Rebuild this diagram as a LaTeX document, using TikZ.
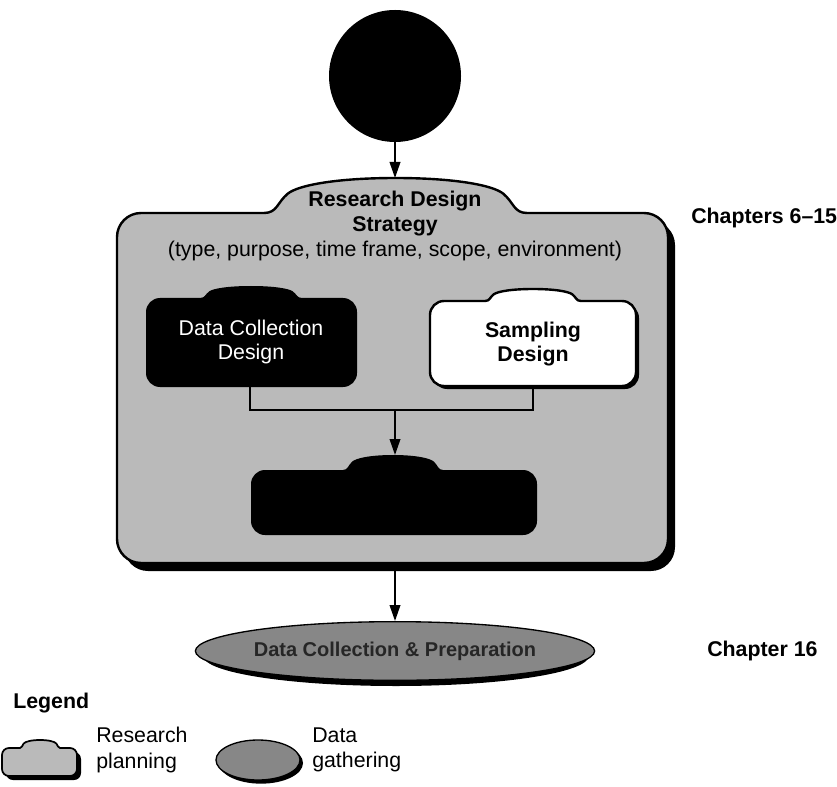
\documentclass[tikz,border=0pt]{standalone}
\usepackage{fontspec}
\setmainfont{Liberation Sans}
\usetikzlibrary{arrows.meta,shapes.geometric}
% #1 options, #2 x1, #3 y top of body, #4 x2, #5 y bottom, #6 bump left, #7 bump right, #8 bump top, #9 corner radius
\newcommand{\cloudshape}[9][]{%
 \path[#1] (#7,#3) -- ({#4-#9},#3) arc[start angle=-90,end angle=0,radius=#9]
  -- (#4,{#5-#9}) arc[start angle=0,end angle=90,radius=#9]
  -- ({#2+#9},#5) arc[start angle=90,end angle=180,radius=#9]
  -- (#2,{#3+#9}) arc[start angle=180,end angle=270,radius=#9]
  -- (#6,#3)
  .. controls ({#6+0.05*(#7-#6)},#3) and ({#6+0.05*(#7-#6)},{#3-0.3*(#3-#8)}) .. ({#6+0.09*(#7-#6)},{#3-0.55*(#3-#8)})
  .. controls ({#6+0.13*(#7-#6)},{#3-0.8*(#3-#8)}) and ({#6+0.28*(#7-#6)},#8) .. ({#6+0.5*(#7-#6)},#8)
  .. controls ({#6+0.72*(#7-#6)},#8) and ({#6+0.87*(#7-#6)},{#3-0.8*(#3-#8)}) .. ({#6+0.91*(#7-#6)},{#3-0.55*(#3-#8)})
  .. controls ({#6+0.95*(#7-#6)},{#3-0.3*(#3-#8)}) and ({#6+0.95*(#7-#6)},#3) .. (#7,#3)
  -- cycle;}
\begin{document}
\begin{tikzpicture}[x=0.75pt,y=-0.75pt,
  arr/.style={line width=1.3pt,-{Triangle[length=12pt,width=8pt]}},
  conn/.style={line width=1.3pt},
  lbl/.style={font=\fontsize{16}{18.4}\selectfont,align=center,inner sep=0pt},
  planfill/.style={fill=black!27,draw=black,line width=1.8pt},
  gatherfill/.style={ellipse,fill=black!47,draw=black,line width=1pt,inner sep=0pt}]
\useasboundingbox (0,0) rectangle (837,787);

% start circle
\node[circle,fill=black,minimum size=99pt,inner sep=0pt] (start) at (395,76) {};

% big research design box
\cloudshape[fill=black,shift={(7,8)}]{117}{213}{668}{563}{264}{527}{180}{24}
\cloudshape[planfill]{117}{213}{668}{563}{264}{527}{178}{24}
\coordinate (rdstop) at (395,178);
\coordinate (rdsbot) at (395,571);
\node[lbl] (rds) at (395,226) {\textbf{Research Design}\\\textbf{Strategy}\\(type, purpose, time frame, scope, environment)};

% data collection design
\cloudshape[fill=black]{146}{298}{357}{387}{200}{302}{286}{14}
\node[lbl,text=white,font=\fontsize{16}{17.8}\selectfont] (dcd) at (251,342) {Data Collection\\Design};
\coordinate (dcbot) at (250,387);

% sampling design
\cloudshape[fill=black,shift={(3,3)}]{430}{301}{636}{386}{485}{581}{289}{14}
\cloudshape[fill=white,draw=black,line width=1.8pt]{430}{301}{636}{386}{485}{581}{289}{14}
\node[lbl,font=\bfseries\fontsize{16}{17.8}\selectfont] (sd) at (533,344) {Sampling\\Design};
\coordinate (sdbot) at (533,387);

% join and bottom black box
\coordinate (join) at (395,410);
\cloudshape[fill=black]{251}{470}{537}{535}{343}{443}{455}{14}
\coordinate (outtop) at (395,455);

\draw[conn] (dcbot) |- (join) -| (sdbot);
\draw[arr] (join) -- (outtop);
\draw[arr] (start) -- (rdstop);

% data collection & preparation
\node[ellipse,fill=black,minimum width=289pt,minimum height=45pt,inner sep=0pt] (dcpsh) at (396,656) {};
\node[gatherfill,minimum width=289pt,minimum height=44pt,font=\bfseries\fontsize{15}{17}\selectfont,text=black!85] (dcp) at (395,651) {Data Collection \& Preparation};
\draw[arr] (rdsbot) -- (dcp.north);

% chapter labels
\node[anchor=west,font=\bfseries\fontsize{16}{18}\selectfont,inner sep=0pt] (ch1) at (691,218) {Chapters 6\textendash15};
\node[anchor=west,font=\bfseries\fontsize{16}{18}\selectfont,inner sep=0pt] (ch2) at (707,651) {Chapter 16};

% legend
\node[anchor=west,font=\bfseries\fontsize{16}{18}\selectfont,inner sep=0pt] (leg) at (13,703) {Legend};
\cloudshape[fill=black,shift={(4,4)}]{2}{748}{77}{776}{20}{60}{740}{7}
\cloudshape[planfill,line width=1.3pt]{2}{748}{77}{776}{20}{60}{740}{7}
\node[anchor=west,align=left,font=\fontsize{16}{19}\selectfont,inner sep=0pt] (lg1) at (96,750) {Research\\planning};
\node[ellipse,fill=black,minimum width=63pt,minimum height=31pt,inner sep=0pt] (lg2sh) at (261,763) {};
\node[gatherfill,minimum width=63pt,minimum height=30pt] (lg2) at (258,760) {};
\node[anchor=west,align=left,font=\fontsize{16}{19}\selectfont,inner sep=0pt] (lg2t) at (312,750) {Data\\gathering};
\end{tikzpicture}
\end{document}
